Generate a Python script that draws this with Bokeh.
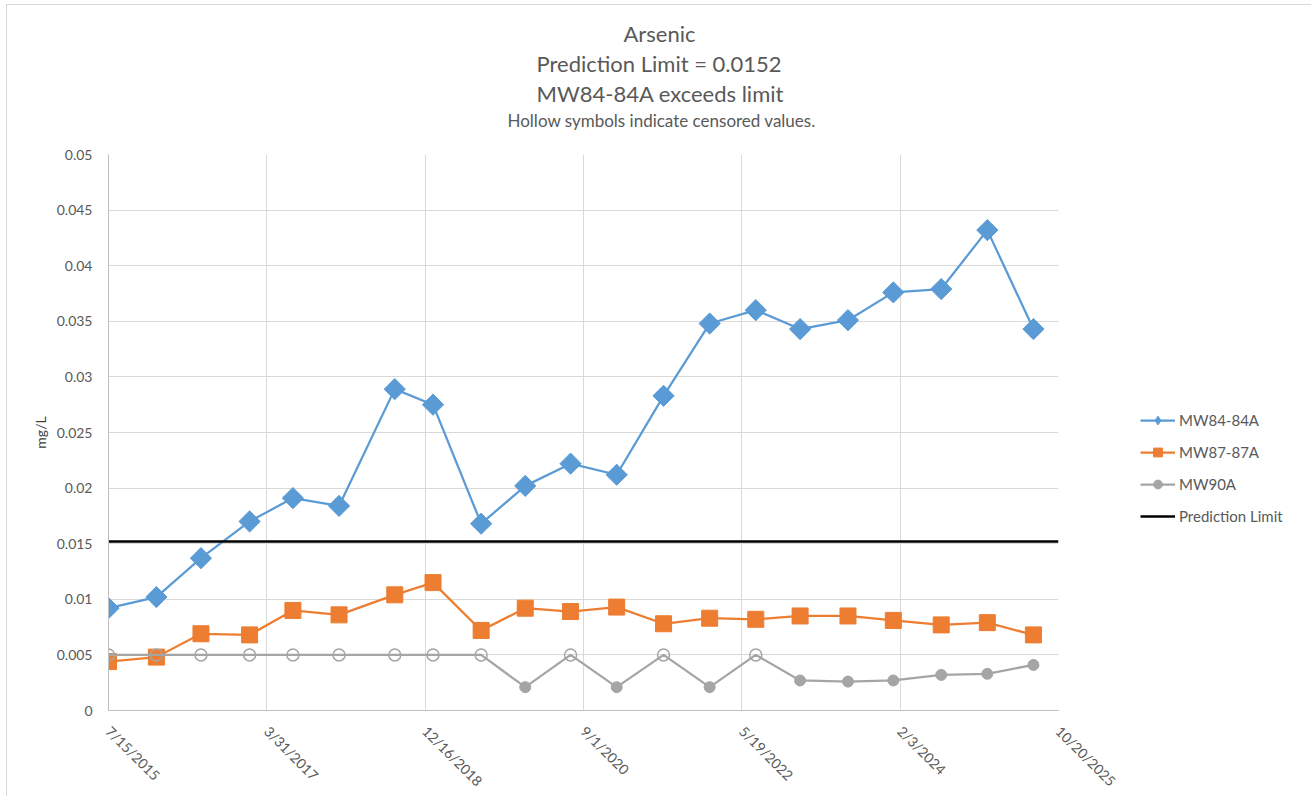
import numpy as np
import pandas as pd
from bokeh.plotting import figure
from bokeh.models import (Range1d, FixedTicker, CustomJSTickFormatter, Legend,
                          LegendItem, Title, ColumnDataSource)
from bokeh.embed import file_html
from bokeh.resources import INLINE

# ---------------- data ----------------
dates = ["2015-07-15", "2016-01-20", "2016-07-14", "2017-01-22", "2017-07-12",
         "2018-01-10", "2018-08-18", "2019-01-16", "2019-07-25", "2020-01-15",
         "2020-07-12", "2021-01-10", "2021-07-14", "2022-01-12", "2022-07-13",
         "2023-01-04", "2023-07-12", "2024-01-07", "2024-07-14", "2025-01-12",
         "2025-07-13"]
mw84_84a = [0.0092, 0.0102, 0.0137, 0.0170, 0.0191, 0.0184, 0.0289, 0.0275,
            0.0168, 0.0202, 0.0222, 0.0212, 0.0283, 0.0348, 0.0360, 0.0343,
            0.0351, 0.0376, 0.0379, 0.0432, 0.0343]
mw87_87a = [0.0044, 0.0048, 0.0069, 0.0068, 0.0090, 0.0086, 0.0104, 0.0115,
            0.0072, 0.0092, 0.0089, 0.0093, 0.0078, 0.0083, 0.0082, 0.0085,
            0.0085, 0.0081, 0.0077, 0.0079, 0.0068]
mw90a = [0.005, 0.005, 0.005, 0.005, 0.005, 0.005, 0.005, 0.005, 0.005, 0.0021,
         0.005, 0.0021, 0.005, 0.0021, 0.005, 0.0027, 0.0026, 0.0027, 0.0032,
         0.0033, 0.0041]
mw90a_censored = [True, True, True, True, True, True, True, True, True, False,
                  True, False, True, False, True, False, False, False, False,
                  False, False]
prediction_limit = 0.0152
x_tick_dates = ["2015-07-15", "2017-03-31", "2018-12-16", "2020-09-01",
                "2022-05-19", "2024-02-03", "2025-10-20"]
y_ticks = [0, 0.005, 0.01, 0.015, 0.02, 0.025, 0.03, 0.035, 0.04, 0.045, 0.05]

title_lines = ["Arsenic", "Prediction Limit = 0.0152", "MW84-84A exceeds limit"]
subtitle = "Hollow symbols indicate censored values."

# ---------------- styling constants ----------------
FONT = "Lato"
TXT = "#595959"
BLUE = "#5B9BD5"
ORANGE = "#ED7D31"
GRAY = "#A5A5A5"

x = pd.to_datetime(dates)
tick_ms = [pd.Timestamp(d).value // 10**6 for d in x_tick_dates]
x_start, x_end = pd.Timestamp(x_tick_dates[0]), pd.Timestamp(x_tick_dates[-1])

src90 = pd.DataFrame({"x": x, "y": mw90a, "c": mw90a_censored})
src90_open = ColumnDataSource(src90[src90["c"]])
src90_fill = ColumnDataSource(src90[~src90["c"]])

p = figure(frame_width=950, frame_height=556, x_axis_type="datetime",
           x_range=Range1d(tick_ms[0], tick_ms[-1]), y_range=Range1d(0, 0.05),
           output_backend="svg", toolbar_location=None,
           min_border_left=101, min_border_right=248,
           min_border_top=149, min_border_bottom=80)
p.outline_line_color = None
p.background_fill_color = "white"
p.border_fill_color = "white"
p.styles = {"border": "1px solid #D9D9D9"}
p.margin = (4, 0, 0, 6)

# axes
p.xaxis.ticker = FixedTicker(ticks=tick_ms)
p.xaxis.formatter = CustomJSTickFormatter(code="""
const d = new Date(tick);
return (d.getUTCMonth() + 1) + "/" + d.getUTCDate() + "/" + d.getUTCFullYear();
""")
p.yaxis.ticker = FixedTicker(ticks=y_ticks)
p.yaxis.formatter = CustomJSTickFormatter(code="return String(parseFloat(tick.toFixed(4)));")
for ax in (p.xaxis, p.yaxis):
    ax.major_tick_line_color = None
    ax.minor_tick_line_color = None
    ax.axis_line_color = "#BFBFBF"
    ax.major_label_text_color = TXT
    ax.major_label_text_font = FONT
    ax.major_label_text_font_size = "14px"
p.xaxis.major_label_orientation = -np.pi / 4
p.xaxis.major_label_standoff = 12
p.yaxis.major_label_standoff = 10
p.yaxis.axis_label = "mg/L"
p.yaxis.axis_label_text_font = FONT
p.yaxis.axis_label_text_font_size = "14px"
p.yaxis.axis_label_text_font_style = "normal"
p.yaxis.axis_label_text_color = "#404040"
p.yaxis.axis_label_standoff = 5

p.xgrid.grid_line_color = "#D9D9D9"
p.ygrid.grid_line_color = "#D9D9D9"

# series
l1 = p.line(x, mw84_84a, line_color=BLUE, line_width=2.25)
s1 = p.scatter(x, mw84_84a, marker="square", angle=np.pi / 4, size=15,
               fill_color=BLUE, line_color=BLUE)
s1_key = p.scatter(x, mw84_84a, marker="diamond", size=15, fill_color=BLUE,
                   line_color=BLUE, visible=False)
l2 = p.line(x, mw87_87a, line_color=ORANGE, line_width=2.25)
s2 = p.scatter(x, mw87_87a, marker="square", size=16, fill_color=ORANGE,
               line_color=ORANGE)
l3 = p.line(x, mw90a, line_color=GRAY, line_width=2.25)
s3o = p.scatter("x", "y", source=src90_open, marker="circle", size=12,
                fill_alpha=0, line_color=GRAY, line_width=1.5)
s3f = p.scatter("x", "y", source=src90_fill, marker="circle", size=11,
                fill_color=GRAY, line_color=GRAY)
l4 = p.line([x_start, x_end], [prediction_limit, prediction_limit],
            line_color="black", line_width=2.5)

legend = Legend(items=[
    LegendItem(label="MW84-84A", renderers=[l1, s1_key]),
    LegendItem(label="MW87-87A", renderers=[l2, s2]),
    LegendItem(label="MW90A", renderers=[l3, s3f]),
    LegendItem(label="Prediction Limit", renderers=[l4]),
], location=(82, 183))
legend.glyph_width = 35
legend.glyph_height = 22
legend.label_height = 22
legend.spacing = 10
legend.padding = 0
legend.margin = 0
legend.label_standoff = 4
legend.label_text_font = FONT
legend.label_text_font_size = "15px"
legend.label_text_color = TXT
legend.background_fill_alpha = 0
legend.border_line_color = None
p.add_layout(legend, "right")

# titles (added from the frame outward); first one is an invisible spacer
p.add_layout(Title(text=" ", standoff=21, text_font=FONT, text_font_size="1px",
                   text_color="white"), "above")
p.add_layout(Title(text=subtitle, align="left", offset=399, standoff=0,
                   text_font=FONT, text_font_size="17px", text_font_style="normal",
                   text_color=TXT), "above")
for txt, off, so in [(title_lines[2], 428, 2), (title_lines[1], 428, 0),
                     (title_lines[0], 515, 2)]:
    p.add_layout(Title(text=txt, align="left", offset=off, standoff=so,
                       text_font=FONT, text_font_size="22px", text_font_style="normal",
                       text_color=TXT), "above")

open("out.html", "w").write(file_html(p, INLINE))
